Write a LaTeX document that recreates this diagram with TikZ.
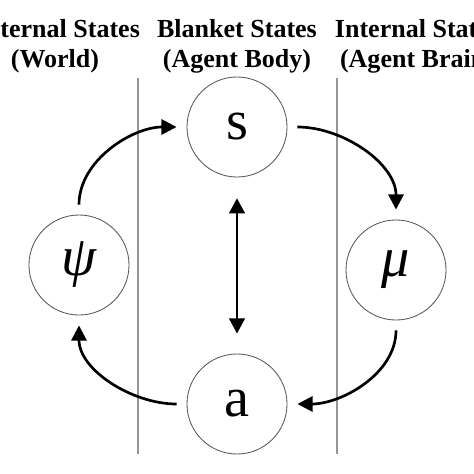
\documentclass[tikz,border=0pt]{standalone}
\usepackage{fontspec}
\setmainfont{Liberation Serif}
\usetikzlibrary{arrows.meta}
\definecolor{cLine}{RGB}{85, 85, 85}
\definecolor{cSep} {RGB}{150, 150, 150}
\tikzset{
  S/.style   = {circle, draw=cLine, line width=0.6pt, minimum size=2.5cm,
                inner sep=0pt, font=\fontsize{40}{46}\selectfont},
  H/.style   = {align=center, inner sep=0pt, anchor=north,
                font=\fontsize{18.5}{21.5}\selectfont\bfseries},
  A/.style   = {-{Triangle[length=3.8mm,width=3.8mm]}, line width=1.9pt,
                shorten <=0.25cm, shorten >=0.25cm},
  AA/.style  = {{Triangle[length=3.8mm,width=3.9mm]}-{Triangle[length=3.8mm,width=3.9mm]},
                line width=1.9pt, shorten <=0.52cm, shorten >=0.5cm},
  sep/.style = {draw=cSep, line width=0.8pt},
}

\begin{document}
\begin{tikzpicture}[x=0.025cm, y=-0.025cm]
\useasboundingbox (0,0) rectangle (474,474);

%% ─── Column titles ───────────────────────────────────────────
\node[H] (hW) at (55,19)  {External States\\(World)};
\node[H] (hB) at (237,19) {Blanket States\\(Agent Body)};
\node[H] (hI) at (417,19) {Internal States\\(Agent Brain)};

%% ─── Separators ──────────────────────────────────────────────
\coordinate (l1) at (138,78);  \coordinate (l2) at (138,454);
\coordinate (r1) at (337,78);  \coordinate (r2) at (337,454);
\draw[sep] (l1)--(l2);
\draw[sep] (r1)--(r2);

%% ─── States ──────────────────────────────────────────────────
\node[S] (s)   at (237,127) {s};
\node[S] (a)   at (237,404) {a};
\node[S] (psi) at (79,265)  {\itshape ψ};
\node[S] (mu)  at (396,270) {\itshape μ};

%% ─── Cycle ───────────────────────────────────────────────────
\draw[A] (psi.north) to[out=90,in=180]  (s.west);
\draw[A] (s.east)    to[out=0,in=90]    (mu.north);
\draw[A] (mu.south)  to[out=-90,in=0]   (a.east);
\draw[A] (a.west)    to[out=180,in=-90] (psi.south);

\draw[AA] (s.south)--(a.north);

\end{tikzpicture}
\end{document}
